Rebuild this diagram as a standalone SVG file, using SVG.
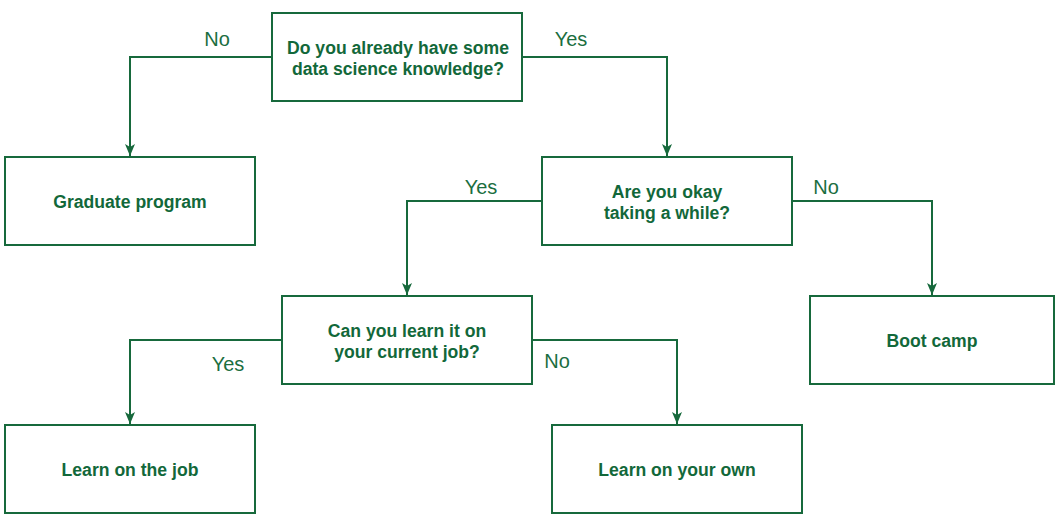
<svg xmlns="http://www.w3.org/2000/svg" width="1063" height="527" viewBox="0 0 1063 527">
<style>
.box{fill:#ffffff;stroke:#17693c;stroke-width:2}
.edge{fill:none;stroke:#17693c;stroke-width:2}
.nt{font-family:"Liberation Sans",Arial,sans-serif;font-weight:bold;font-size:17.6px;fill:#12683a;text-anchor:middle}
.lb{font-family:"Liberation Sans",Arial,sans-serif;font-size:20px;fill:#1b6e3f;text-anchor:middle}
</style>
<defs>
<marker id="arr" viewBox="0 0 12 10" refX="12" refY="5" markerWidth="12" markerHeight="10" markerUnits="userSpaceOnUse" orient="auto">
<path d="M0,0 L12,5 L0,10 L3,5 Z" fill="#17693c"/>
</marker>
</defs>
<rect width="1063" height="527" fill="#ffffff"/>
<g id="connectors">
<path class="edge" d="M272,57 H130 V156" marker-end="url(#arr)"/>
<path class="edge" d="M522,57 H667 V156" marker-end="url(#arr)"/>
<path class="edge" d="M542,201 H407 V295" marker-end="url(#arr)"/>
<path class="edge" d="M792,201 H932 V295" marker-end="url(#arr)"/>
<path class="edge" d="M282,340 H130 V424" marker-end="url(#arr)"/>
<path class="edge" d="M532,340 H677 V424" marker-end="url(#arr)"/>
<text class="lb" x="217" y="46">No</text>
<text class="lb" x="571" y="46">Yes</text>
<text class="lb" x="481" y="194">Yes</text>
<text class="lb" x="826" y="194">No</text>
<text class="lb" x="228" y="371">Yes</text>
<text class="lb" x="557" y="368">No</text>
</g>
<g id="q1">
<rect class="box" x="272" y="13" width="250" height="88"/>
<text class="nt" x="398" y="54">Do you already have some</text>
<text class="nt" x="398" y="75">data science knowledge?</text>
</g>
<g id="graduate">
<rect class="box" x="5" y="157" width="250" height="88"/>
<text class="nt" x="130" y="208">Graduate program</text>
</g>
<g id="q2">
<rect class="box" x="542" y="157" width="250" height="88"/>
<text class="nt" x="667" y="198">Are you okay</text>
<text class="nt" x="667" y="219">taking a while?</text>
</g>
<g id="q3">
<rect class="box" x="282" y="296" width="250" height="88"/>
<text class="nt" x="407" y="337">Can you learn it on</text>
<text class="nt" x="407" y="358">your current job?</text>
</g>
<g id="bootcamp">
<rect class="box" x="810" y="296" width="244" height="88"/>
<text class="nt" x="932" y="347">Boot camp</text>
</g>
<g id="learnjob">
<rect class="box" x="5" y="425" width="250" height="88"/>
<text class="nt" x="130" y="476">Learn on the job</text>
</g>
<g id="learnown">
<rect class="box" x="552" y="425" width="250" height="88"/>
<text class="nt" x="677" y="476">Learn on your own</text>
</g>
</svg>
